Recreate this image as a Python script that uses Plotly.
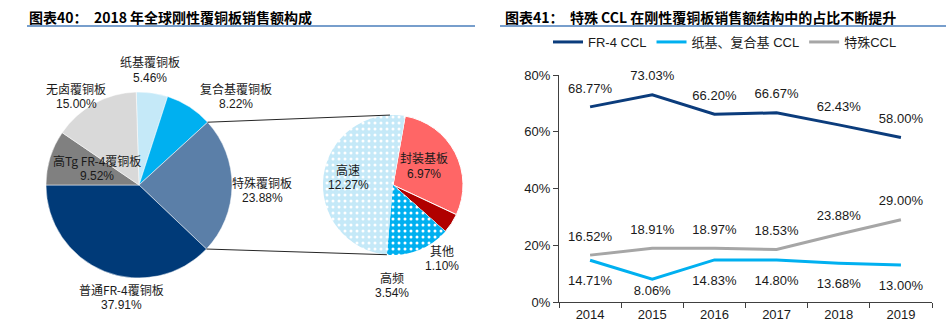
import math
import plotly.graph_objects as go

W, H = 946, 324

# ---- 2018 global rigid CCL sales mix ----
main_labels = ["纸基覆铜板", "复合基覆铜板", "特殊覆铜板", "普通FR-4覆铜板", "高Tg FR-4覆铜板", "无卤覆铜板"]
main_values = [5.46, 8.22, 23.88, 37.91, 9.52, 15.00]
main_colors = ["#C5E9F8", "#00B0F0", "#5B7FA8", "#003A78", "#808080", "#D9D9D9"]

# breakdown of the special CCL slice
sub_labels = ["封装基板", "其他", "高频", "高速"]
sub_values = [6.97, 1.10, 3.54, 12.27]
sub_colors = ["#FF6666", "#B00000", "#00B0F0", "#C5E9F8"]
sub_dotted = [False, False, True, True]

# ---- share of CCL segments by year ----
years = ["2014", "2015", "2016", "2017", "2018", "2019"]
fr4_share = [68.77, 73.03, 66.20, 66.67, 62.43, 58.00]
paper_share = [14.71, 8.06, 14.83, 14.80, 13.68, 13.00]
special_share = [16.52, 18.91, 18.97, 18.53, 23.88, 29.00]
y_ticks = [0, 20, 40, 60, 80]

FONT = "Liberation Sans, Arial, Noto Sans CJK SC, sans-serif"
CJK = "Noto Sans CJK SC, sans-serif"


def px(x):
    return x / W


def py(y):
    return 1 - y / H


def pie_domain(cx, cy, r):
    return dict(x=[px(cx - r), px(cx + r)], y=[py(cy + r), py(cy - r)])


# pie geometry (pixels)
c1x, c1y, r1 = 139, 185, 93
c2x, c2y, r2 = 393, 185, 70

total_main = sum(main_values)
# the normal FR-4 / high-Tg boundary sits at 9 o'clock
rot_main = 270 - 360 * sum(main_values[:4]) / total_main
rot_sub = 10

fig = go.Figure()

fig.add_trace(go.Pie(
    labels=main_labels, values=main_values, sort=False, direction="clockwise",
    rotation=rot_main, domain=pie_domain(c1x, c1y, r1),
    marker=dict(colors=main_colors, line=dict(color="white", width=0.5)),
    textinfo="none", hoverinfo="label+value", showlegend=False,
))

# breakdown pie: solid fills first, then a dotted overlay on the same slices
fig.add_trace(go.Pie(
    labels=sub_labels, values=sub_values, sort=False, direction="clockwise",
    rotation=rot_sub, domain=pie_domain(c2x, c2y, r2),
    marker=dict(colors=sub_colors, line=dict(color="white", width=1)),
    textinfo="none", hoverinfo="label+value", showlegend=False,
))
fig.add_trace(go.Pie(
    labels=sub_labels, values=sub_values, sort=False, direction="clockwise",
    rotation=rot_sub, domain=pie_domain(c2x, c2y, r2),
    marker=dict(colors=["rgba(0,0,0,0)"] * len(sub_labels),
                line=dict(color="rgba(0,0,0,0)", width=0),
                pattern=dict(shape=["." if d else "" for d in sub_dotted],
                             fgcolor="white", bgcolor=sub_colors,
                             fgopacity=1, size=6, solidity=0.2)),
    textinfo="none", hoverinfo="skip", showlegend=False,
))

# connector lines from the special slice to the breakdown pie
a0 = math.radians(rot_main + 360 * sum(main_values[:2]) / total_main)
a1 = math.radians(rot_main + 360 * sum(main_values[:3]) / total_main)
b0 = math.radians(-2.5)
b1 = math.radians(rot_sub + 360 * sum(sub_values[:3]) / sum(sub_values))
shapes = []
for a, b in ((a0, b0), (a1, b1)):
    x0, y0 = c1x + r1 * math.sin(a), c1y - r1 * math.cos(a)
    x1, y1 = c2x + r2 * math.sin(b), c2y - r2 * math.cos(b)
    shapes.append(dict(type="line", xref="paper", yref="paper",
                       x0=px(x0), y0=py(y0), x1=px(x1), y1=py(y1),
                       line=dict(color="#262626", width=1)))

# title underlines
for xa, xb in ((27, 475), (500, 946)):
    shapes.append(dict(type="line", xref="paper", yref="paper",
                       x0=px(xa), x1=px(xb), y0=py(26), y1=py(26),
                       line=dict(color="#4A7EBB", width=1.5)))

annotations = []


def note(text, x, y, size=12, font=FONT, anchor="center", color="#1A1A1A"):
    annotations.append(dict(text=text, x=px(x), y=py(y), xref="paper", yref="paper",
                            showarrow=False, xanchor=anchor, yanchor="middle",
                            font=dict(size=size, family=font, color=color)))


note("<b>图表40：  2018 年全球刚性覆铜板销售额构成</b>", 27, 17, size=14, font=CJK, anchor="left", color="#000000")
note("<b>图表41：  特殊 CCL 在刚性覆铜板销售额结构中的占比不断提升</b>", 503, 17, size=14, font=CJK, anchor="left", color="#000000")

# pie slice labels: name above, percentage below
main_pos = {
    "纸基覆铜板": (150, 62),
    "复合基覆铜板": (236, 88),
    "特殊覆铜板": (262, 182),
    "普通FR-4覆铜板": (121, 289),
    "高Tg FR-4覆铜板": (97, 160),
    "无卤覆铜板": (76, 88),
}
for lab, val in zip(main_labels, main_values):
    x, y = main_pos[lab]
    note(lab, x, y, font=CJK)
    note(f"{val:.2f}%", x, y + 16)

sub_pos = {
    "封装基板": (424, 158),
    "其他": (442, 250),
    "高频": (392, 277),
    "高速": (348, 169),
}
for lab, val in zip(sub_labels, sub_values):
    x, y = sub_pos[lab]
    note(lab, x, y, font=CJK)
    note(f"{val:.2f}%", x, y + 16)

# line chart
plot_x0, plot_x1 = 559, 932
plot_ytop, plot_ybot = 75, 302
k = (plot_ybot - plot_ytop) / (y_ticks[-1] - y_ticks[0])  # px per percent
LABEL_SIZE = 13

series = [
    ("FR-4 CCL", fr4_share, "#0B3C7C", "top center"),
    ("纸基、复合基 CCL", paper_share, "#00B0F0", "bottom center"),
    ("特殊CCL", special_share, "#A6A6A6", "top center"),
]


def text_marker_size(v, where):
    # an invisible marker pushes the value label away from the line;
    # labels below the line stay clear of the x axis
    if where == "top center":
        gap = 19
        r = gap - 0.61 * LABEL_SIZE
    else:
        gap = min(20.0, v * k - 12)
        r = gap - 0.39 * LABEL_SIZE
    return 2 * 0.8 * (r - 1)


for name, vals, color, where in series:
    fig.add_trace(go.Scatter(
        x=years, y=vals, mode="lines", name=name,
        line=dict(color=color, width=3), xaxis="x", yaxis="y",
        hovertemplate="%{x}: %{y:.2f}%<extra>" + name + "</extra>",
    ))
    fig.add_trace(go.Scatter(
        x=years, y=vals, mode="markers+text", showlegend=False, hoverinfo="skip",
        text=[f"{v:.2f}%" for v in vals], textposition=where,
        textfont=dict(size=LABEL_SIZE, family=FONT, color="#1A1A1A"),
        marker=dict(size=[text_marker_size(v, where) for v in vals], opacity=0,
                    color=color),
        xaxis="x", yaxis="y", cliponaxis=False,
    ))

fig.update_layout(
    template="none",
    width=W, height=H,
    margin=dict(l=0, r=0, t=0, b=0, pad=0, autoexpand=False),
    paper_bgcolor="white", plot_bgcolor="white",
    font=dict(family=FONT, size=13, color="#1A1A1A"),
    xaxis=dict(domain=[px(plot_x0), px(plot_x1)], type="category", range=[-0.5, 5.5],
               tickson="boundaries", ticks="outside", ticklen=5, tickcolor="#404040",
               showline=True, linecolor="#404040", linewidth=1, showgrid=False,
               zeroline=False, automargin=False,
               tickfont=dict(size=13), fixedrange=True),
    yaxis=dict(domain=[py(plot_ybot), py(plot_ytop)], range=[y_ticks[0], y_ticks[-1]],
               tickmode="array", tickvals=y_ticks, ticktext=[f"{t}%" for t in y_ticks],
               ticks="outside", ticklen=5, automargin=False,
               tickcolor="#404040", showline=True, linecolor="#404040", linewidth=1,
               showgrid=False, zeroline=False, tickfont=dict(size=13), fixedrange=True),
    legend=dict(orientation="h", x=px(548), xanchor="left", y=py(42), yanchor="middle",
                font=dict(size=13, family=FONT), itemwidth=30, tracegroupgap=0,
                bgcolor="rgba(0,0,0,0)", borderwidth=0),
    shapes=shapes,
    annotations=annotations,
)

fig.write_html("out.html")
